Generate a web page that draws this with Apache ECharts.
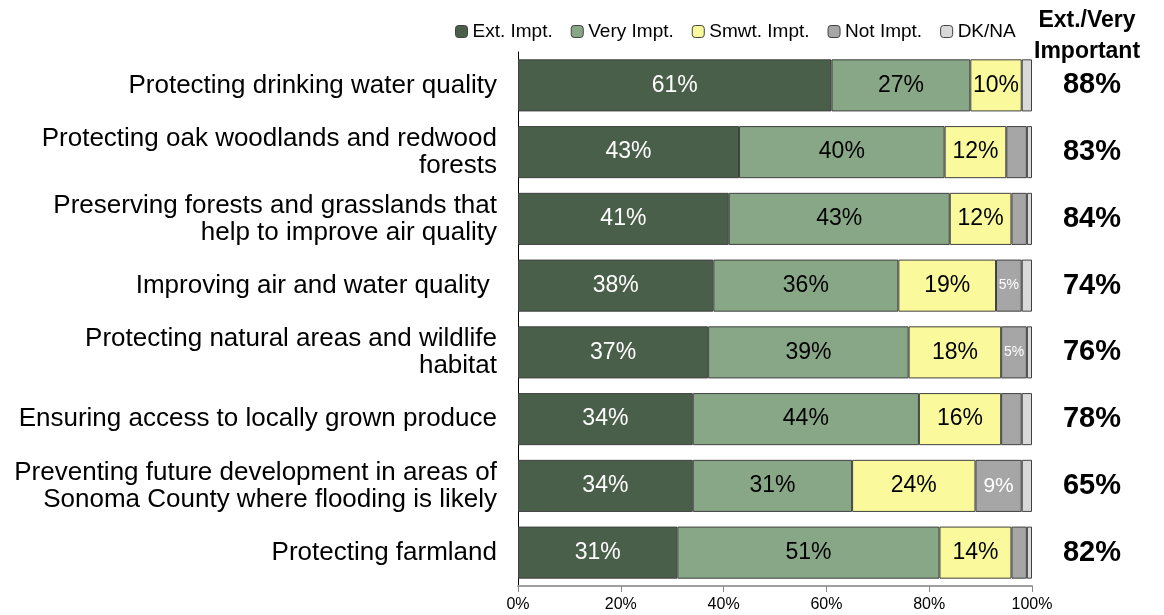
<!DOCTYPE html>
<html><head><meta charset="utf-8">
<script src="https://cdn.jsdelivr.net/npm/echarts@6/dist/echarts.min.js"></script>
<style>html,body{margin:0;padding:0;background:#fff}#c{width:1164px;height:615px}</style>
</head><body><div id="c"></div>
<script>
const categories = [
  "Protecting drinking water quality",
  "Protecting oak woodlands and redwood\nforests",
  "Preserving forests and grasslands that\nhelp to improve air quality",
  "Improving air and water quality ",
  "Protecting natural areas and wildlife\nhabitat",
  "Ensuring access to locally grown produce",
  "Preventing future development in areas of\nSonoma County where flooding is likely",
  "Protecting farmland"
];
const extImpt  = [61, 43, 41, 38, 37, 34, 34, 31];
const veryImpt = [27, 40, 43, 36, 39, 44, 31, 51];
const smwtImpt = [10, 12, 12, 19, 18, 16, 24, 14];
const notImpt  = [0, 4, 3, 5, 5, 4, 9, 3];
const dkna     = [2, 1, 1, 2, 1, 2, 2, 1];
const totals   = ["88%", "83%", "84%", "74%", "76%", "78%", "65%", "82%"];
const xTicks   = [0, 20, 40, 60, 80, 100];

const FONT = "Liberation Sans, Arial, sans-serif";
const chart = echarts.init(document.getElementById('c'));

function mk(name, vals, color, labelColor, smallFn) {
  return {
    name, type: 'bar', stack: 'a', barWidth: '78%',
    itemStyle: { color, borderColor: '#404040', borderWidth: 1 },
    data: vals.map(v => ({
      value: v,
      itemStyle: v === 0 ? { borderWidth: 0 } : undefined,
      label: {
        show: v >= 5,
        position: 'inside',
        formatter: Math.round(v) + '%',
        color: labelColor,
        fontFamily: FONT,
        fontSize: smallFn ? smallFn(v) : 23
      }
    }))
  };
}

chart.setOption({
  animation: false,
  textStyle: { fontFamily: FONT },
  legend: {
    left: 450, top: 17, itemWidth: 12, itemHeight: 12, itemGap: 18,
    textStyle: { fontSize: 19, color: '#000', fontFamily: FONT },
    itemStyle: { borderColor: '#404040', borderWidth: 1 },
    data: ['Ext. Impt.', 'Very Impt.', 'Smwt. Impt.', 'Not Impt.', 'DK/NA']
  },
  graphic: [{
    type: 'text', left: 1034, top: 5,
    style: { text: 'Ext./Very\nImportant', font: 'bold 23px ' + FONT, fill: '#000', textAlign: 'center', lineHeight: 31, x: 58 }
  }],
  grid: { left: 518, right: 132, top: 52, bottom: 29 },
  xAxis: {
    type: 'value', min: 0, max: 100, interval: 20,
    axisLabel: { formatter: '{value}%', fontSize: 16, color: '#000', fontFamily: FONT, margin: 11 },
    axisLine: { show: true, lineStyle: { color: '#a0a0a0', width: 2 } },
    axisTick: { show: true, length: 6, lineStyle: { color: '#888' } },
    splitLine: { show: false }
  },
  yAxis: [{
    type: 'category', inverse: true, data: categories,
    axisLine: { show: true, lineStyle: { color: '#000', width: 1 } },
    axisTick: { show: false },
    axisLabel: { fontSize: 26, color: '#000', fontFamily: FONT, margin: 21, lineHeight: 27, align: 'right' }
  }, {
    type: 'category', inverse: true, data: totals, position: 'right',
    axisLine: { show: false }, axisTick: { show: false },
    axisLabel: { fontSize: 29, fontWeight: 'bold', color: '#000', fontFamily: FONT, margin: 60, align: 'center' }
  }],
  series: [
    mk('Ext. Impt.', extImpt, '#4a5f49', '#fff'),
    mk('Very Impt.', veryImpt, '#88a787', '#000'),
    mk('Smwt. Impt.', smwtImpt, '#fafa9c', '#000'),
    mk('Not Impt.', notImpt, '#a6a6a6', '#fff', v => v >= 8 ? 21 : 14),
    mk('DK/NA', dkna, '#d9d9d9', '#000')
  ]
});
</script></body></html>
